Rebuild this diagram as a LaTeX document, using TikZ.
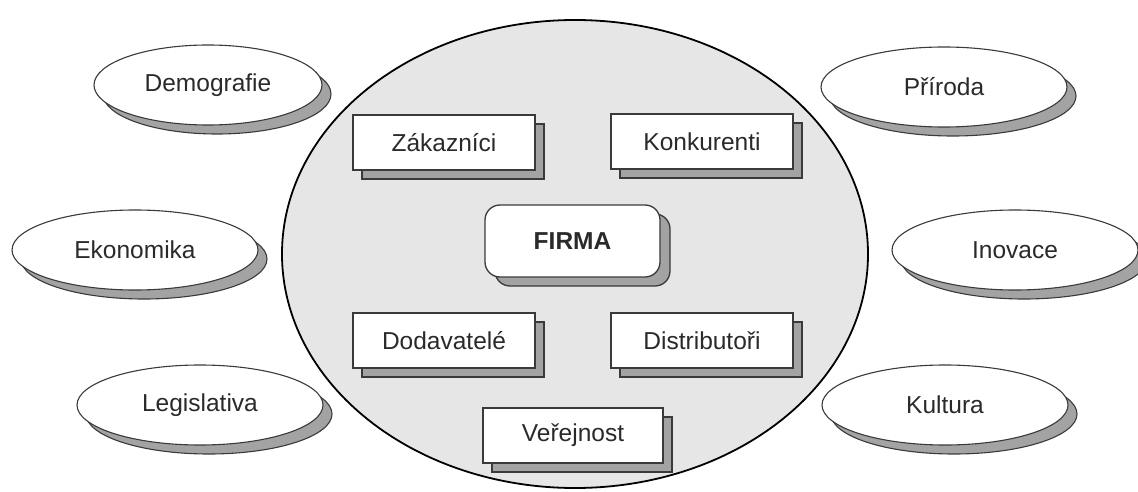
\documentclass[tikz,border=0pt]{standalone}
\usepackage{fontspec}
\setmainfont{Liberation Sans}
\usetikzlibrary{shapes.geometric,shadows}
\definecolor{shgray}{HTML}{A3A3A3}
\definecolor{bggray}{HTML}{E6E6E6}
\definecolor{txt}{HTML}{2A2A2A}
\definecolor{edge}{HTML}{3A3A3A}
\begin{document}
\begin{tikzpicture}[x=1pt,y=-1pt,
  lbl/.style={font=\fontsize{24.5}{29}\selectfont, text=txt},
  envbox/.style={ellipse, lbl, draw=edge, line width=1.1pt, fill=white,
    minimum width=246pt, minimum height=80pt, inner sep=0pt,
    general shadow={fill=shgray, draw=edge, line width=1.1pt, shadow xshift=9pt, shadow yshift=-9pt}},
  actorbox/.style={rectangle, lbl, draw=edge, line width=1.3pt, fill=white,
    minimum width=182pt, minimum height=55pt, inner sep=0pt,
    general shadow={fill=shgray, draw=edge, line width=1.3pt, shadow xshift=9pt, shadow yshift=-9pt}},
  corebox/.style={rectangle, rounded corners=15pt, lbl, font=\fontsize{24.5}{29}\selectfont\bfseries, draw=edge, line width=1.3pt, fill=white,
    minimum width=175pt, minimum height=72pt, inner sep=0pt,
    general shadow={fill=shgray, draw=edge, line width=1.3pt, shadow xshift=10pt, shadow yshift=-9pt}},
  bigring/.style={ellipse, draw=black, line width=1.8pt, fill=bggray, inner sep=0pt}
]
\useasboundingbox (0,0) rectangle (1138,492);
\node[bigring, minimum width=586pt, minimum height=468pt] (ring) at (575,254) {};
% environment
\node[envbox, minimum width=228pt] (demo) at (208,85) {Demografie};
\node[envbox] (eko) at (135,250) {Ekonomika};
\node[envbox] (leg) at (200,405) {Legislativa};
\node[envbox] (prir) at (944,87) {Příroda};
\node[envbox] (inov) at (1015,250) {Inovace};
\node[envbox] (kult) at (945,405) {Kultura};
% actors
\node[actorbox] (zak) at (444,142.5) {Zákazníci};
\node[actorbox] (konk) at (702,141.5) {Konkurenti};
\node[corebox] (firma) at (572.5,241) {FIRMA};
\node[actorbox] (dod) at (444,340.5) {Dodavatelé};
\node[actorbox] (dist) at (702,340.5) {Distributoři};
\node[actorbox, minimum width=180pt] (ver) at (573,435.5) {Veřejnost};
\end{tikzpicture}
\end{document}
